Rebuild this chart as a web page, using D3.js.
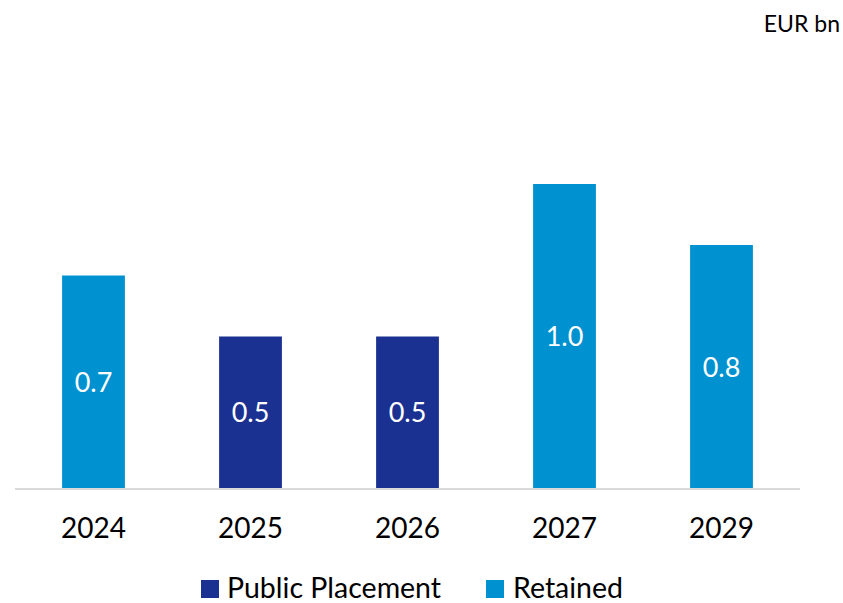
<!DOCTYPE html>
<html><head><meta charset="utf-8">
<script src="https://cdn.jsdelivr.net/npm/d3@7"></script>
<style>html,body{margin:0;padding:0;background:#fff;}</style>
</head><body>
<svg id="c" width="843" height="603"></svg>
<script>
const categories = ["2024","2025","2026","2027","2029"];
const values = [0.7, 0.5, 0.5, 1.0, 0.8];
const seriesOf = ["Retained","Public Placement","Public Placement","Retained","Retained"];
const seriesNames = ["Public Placement","Retained"];
const seriesColors = ["#1B3192","#0091D0"];
const unitLabel = "EUR bn";

const svg = d3.select("#c");
const font = "Lato, 'Open Sans', sans-serif";
const color = d3.scaleOrdinal().domain(seriesNames).range(seriesColors);
const x = d3.scaleBand().domain(categories).range([15, 800]).paddingInner(0.6).paddingOuter(0.3);
const y = d3.scaleLinear().domain([0, 1]).range([489, 184]);

svg.selectAll("rect.bar").data(categories).join("rect")
  .attr("class","bar")
  .attr("x", d => x(d)).attr("width", x.bandwidth())
  .attr("y", (d,i) => y(values[i])).attr("height", (d,i) => y(0) - y(values[i]))
  .attr("fill", (d,i) => color(seriesOf[i]));

svg.selectAll("text.val").data(categories).join("text")
  .attr("class","val")
  .attr("x", d => x(d) + x.bandwidth()/2)
  .attr("y", (d,i) => (y(values[i]) + y(0))/2)
  .attr("dy","0.36em").attr("text-anchor","middle")
  .attr("fill","#fff").attr("font-family",font).attr("font-size",27)
  .text((d,i) => d3.format(".1f")(values[i]));

const ax = svg.append("g").attr("transform","translate(0,489)")
  .call(d3.axisBottom(x).tickSize(0).tickPadding(29));
ax.select(".domain").attr("stroke","#D9D9D9").attr("stroke-width",2).attr("d","M15,0H800");
ax.selectAll("text").attr("font-family",font).attr("font-size",28).attr("fill","#000");

svg.append("text").attr("x",840).attr("y",32).attr("text-anchor","end")
  .attr("font-family",font).attr("font-size",23).attr("fill","#000").text(unitLabel);

const legX = [201, 486];
const legTextDx = [26, 27];
const lg = svg.selectAll("g.leg").data(seriesNames).join("g").attr("class","leg")
  .attr("transform",(d,i)=>`translate(${legX[i]},580)`);
lg.append("rect").attr("width",18).attr("height",18).attr("fill",d=>color(d));
lg.append("text").attr("x",(d,i)=>legTextDx[i]).attr("y",18)
  .attr("font-family",font).attr("font-size",28.5).attr("fill","#000").text(d=>d);
</script>
</body></html>
